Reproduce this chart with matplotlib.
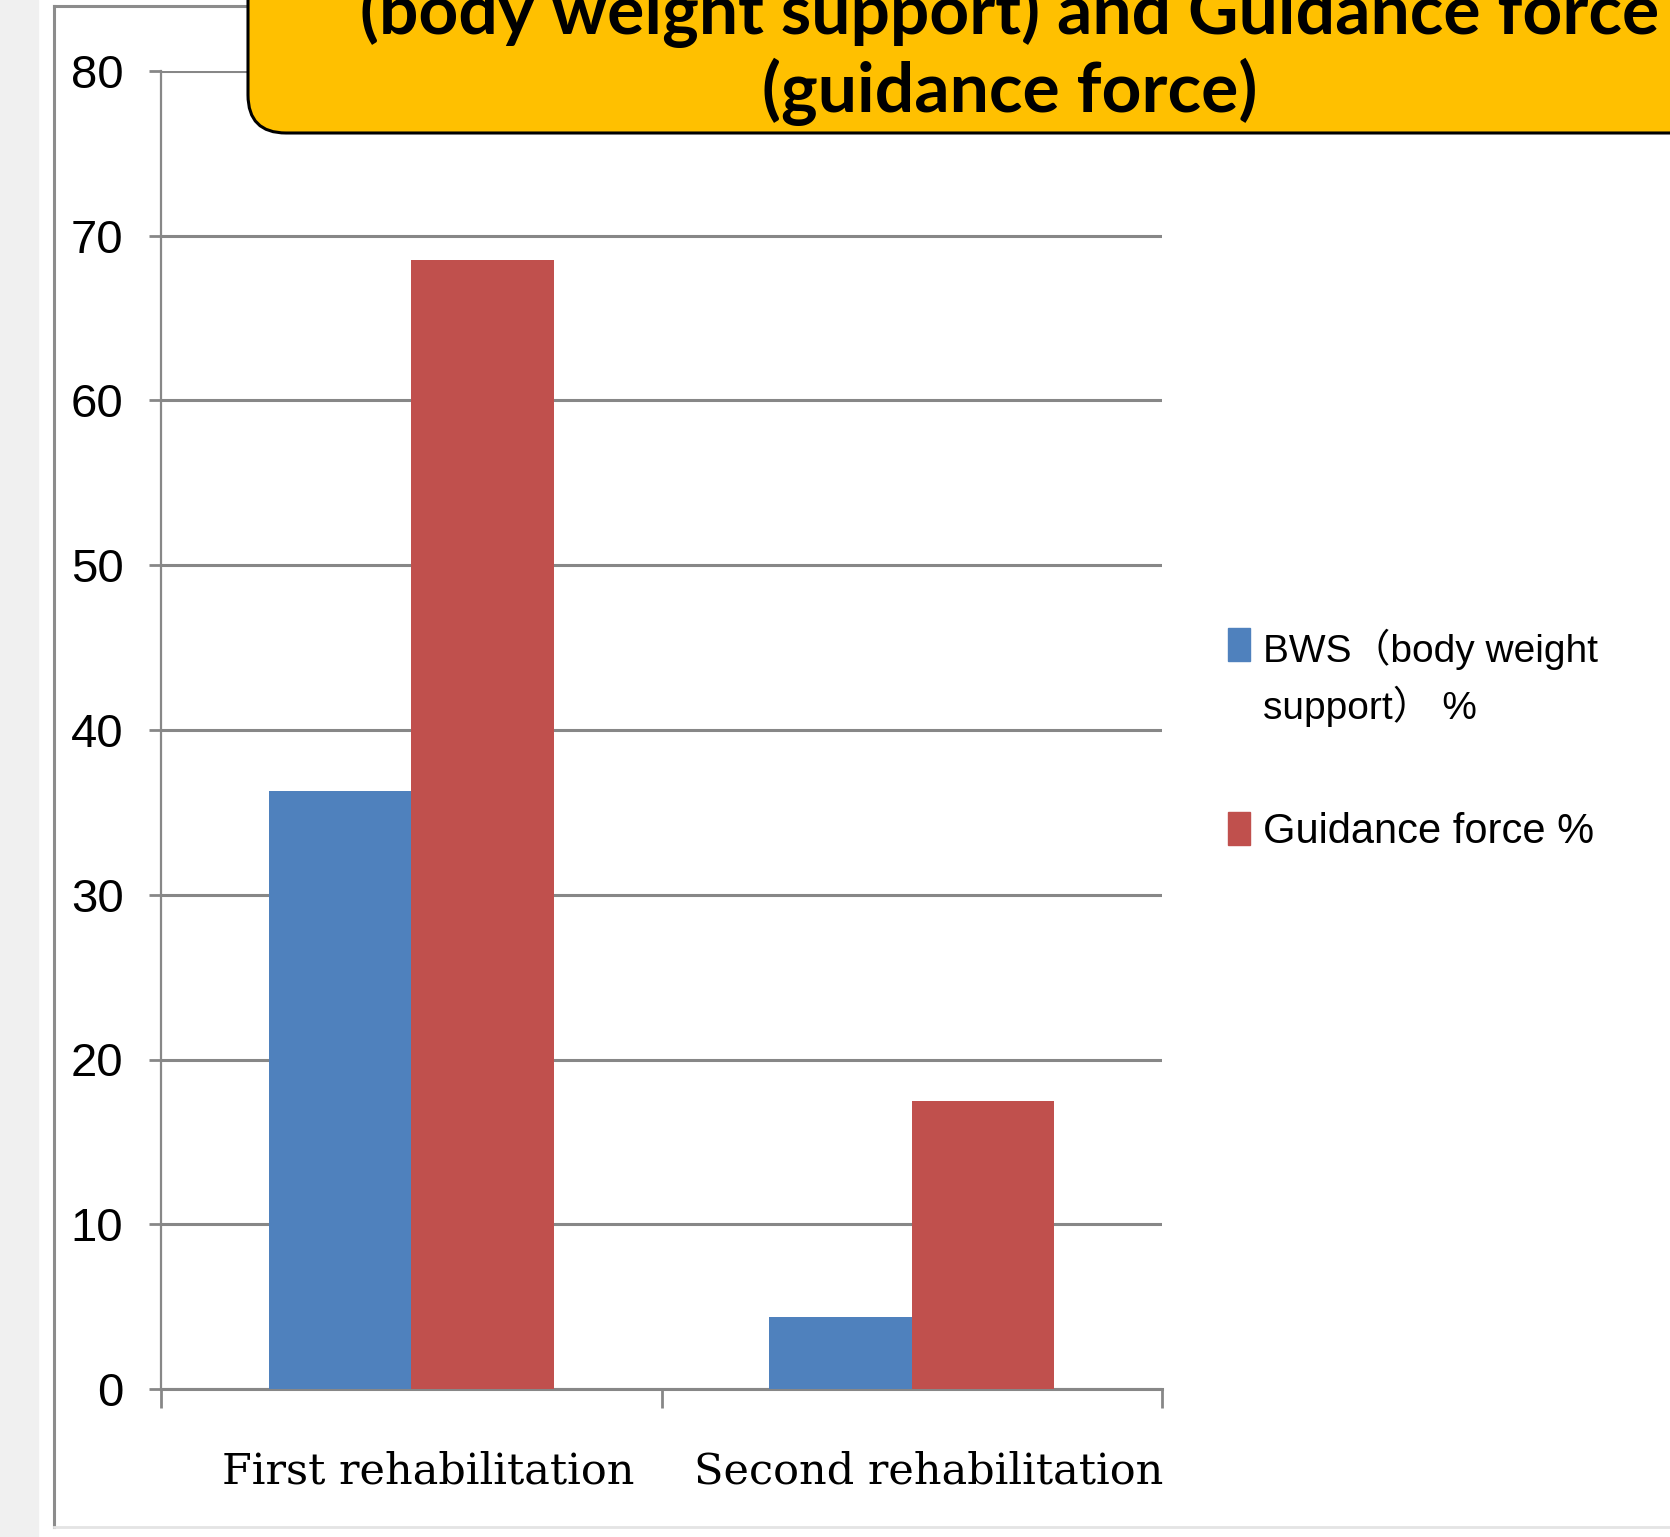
import matplotlib.pyplot as plt
from matplotlib.patches import Rectangle, FancyBboxPatch
from matplotlib.transforms import ScaledTranslation
import numpy as np

# Данные: две реабилитации, две серии
categories = ["First rehabilitation", "Second rehabilitation"]
bws = [36.3, 4.4]
guidance = [68.5, 17.5]
series_names = ["BWS（body weight\nsupport） %", "Guidance force %"]
y_ticks = [0, 10, 20, 30, 40, 50, 60, 70, 80]

blue = "#4F81BD"
red = "#C0504D"
grid_gray = "#878787"

fig = plt.figure(figsize=(16.7, 15.37), dpi=100)
W, H = 1670, 1537

def fx(px):
    return px / W

def fy(py):
    return 1 - py / H

# серая полоса слева и рамка слайда
fig.patches.append(Rectangle((0, 0), fx(38), 1, transform=fig.transFigure,
                             color="#f0f0f0", zorder=0))
fig.add_artist(plt.Line2D([fx(54), fx(54)], [fy(6), fy(1527)], color="#8c8c8c", lw=2.2))
fig.add_artist(plt.Line2D([fx(54), 1], [fy(6), fy(6)], color="#8c8c8c", lw=2.2))
fig.add_artist(plt.Line2D([fx(54), 1], [fy(1527), fy(1527)], color="#e4e4e4", lw=2))

ax = fig.add_axes([fx(161), fy(1389), fx(1162) - fx(161), fy(71) - fy(1389)])

x = np.arange(len(categories))
w = 0.285
ax.bar(x - w / 2, bws, w, color=blue, zorder=3)
ax.bar(x + w / 2, guidance, w, color=red, zorder=3)

ax.set_xlim(-0.5, 1.5)
ax.set_ylim(0, 80)
ax.set_yticks(y_ticks)
ax.set_yticklabels([str(t) for t in y_ticks],
                   family=["Liberation Sans", "DejaVu Sans"], fontsize=34)
ax.tick_params(axis="y", length=9, width=2, color=grid_gray, pad=18)
ax.yaxis.grid(True, color=grid_gray, lw=2.2)
ax.set_axisbelow(True)

ax.set_xticks(x)
ax.set_xticklabels(categories, family=["DejaVu Serif"], fontsize=31)
ax.set_xticks([-0.5, 0.5, 1.5], minor=True)
ax.tick_params(axis="x", which="major", length=0, pad=44)
ax.tick_params(axis="x", which="minor", length=14, width=2, color=grid_gray)
for lbl in ax.get_xticklabels():
    lbl.set_transform(lbl.get_transform() + ScaledTranslation(0.17, 0, fig.dpi_scale_trans))

for s in ["top", "right"]:
    ax.spines[s].set_visible(False)
ax.spines["left"].set_color(grid_gray)
ax.spines["left"].set_linewidth(1.6)
ax.spines["bottom"].set_color(grid_gray)
ax.spines["bottom"].set_linewidth(2.2)

# легенда справа: квадрат цвета + подпись (строки по отдельности)
legend_rows = [(series_names[0], blue, 628, [662, 719], 28),
               (series_names[1], red, 812, [843], 30)]
for name, col, top, baselines, fs in legend_rows:
    fig.patches.append(Rectangle((fx(1228), fy(top + 33)), fx(22), 33 / H,
                                 transform=fig.transFigure, color=col))
    for line, base in zip(name.split("\n"), baselines):
        fig.text(fx(1263), fy(base), line,
                 family=["Liberation Sans", "Noto Sans CJK SC"], fontsize=fs,
                 ha="left", va="baseline")

# жёлтая плашка с заголовком
box = FancyBboxPatch((2.48, 14.04), 15.0, 3.0,
                     boxstyle="round,pad=0,rounding_size=0.38",
                     transform=fig.dpi_scale_trans, facecolor="#FFC000",
                     edgecolor="black", lw=2.2, zorder=5)
fig.patches.append(box)
fig.text(fx(1010), fy(34), "(body weight support) and Guidance force",
         family=["Lato", "DejaVu Sans"], weight="bold", fontsize=50,
         ha="center", va="baseline", zorder=6)
fig.text(fx(1010), fy(112), "(guidance force)",
         family=["Lato", "DejaVu Sans"], weight="bold", fontsize=50,
         ha="center", va="baseline", zorder=6)

fig.savefig("out.png", dpi=100)
